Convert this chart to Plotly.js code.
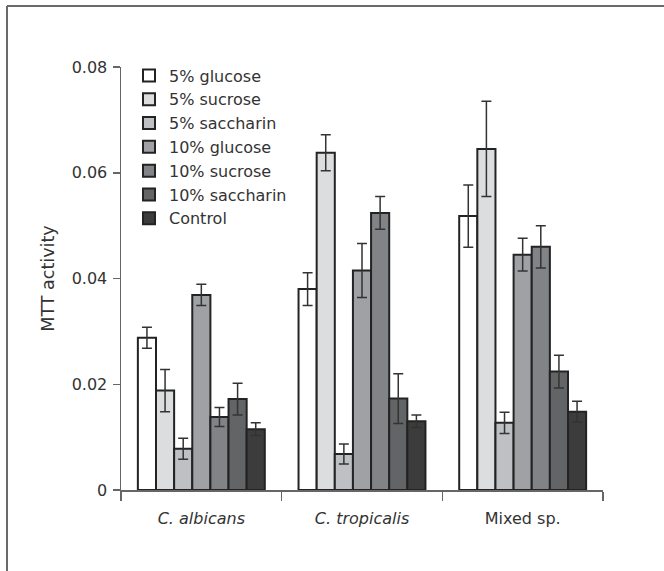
<!DOCTYPE html>
<html>
<head>
<meta charset="utf-8">
<script src="https://cdn.plot.ly/plotly-3.0.1.min.js"></script>
<style>html,body{margin:0;padding:0;background:#fff;}#chart{width:664px;height:571px;}</style>
</head>
<body>
<div id="chart"></div>
<script>
// Categories and tick labels
const categories = ["C. albicans", "C. tropicalis", "Mixed sp."];
const tickLabels = ["<i>C. albicans</i>", "<i>C. tropicalis</i>", "Mixed sp."];

// Series names
const seriesNames = ["5% glucose", "5% sucrose", "5% saccharin", "10% glucose", "10% sucrose", "10% saccharin", "Control"];

// Series values (MTT activity), per category
const glucose5   = [0.0288, 0.0380, 0.0518];
const sucrose5   = [0.0188, 0.0638, 0.0645];
const saccharin5 = [0.0078, 0.0068, 0.0127];
const glucose10  = [0.0369, 0.0415, 0.0445];
const sucrose10  = [0.0138, 0.0524, 0.0460];
const saccharin10= [0.0172, 0.0173, 0.0224];
const control    = [0.0115, 0.0130, 0.0148];

// Error values (symmetric)
const glucose5Err   = [0.0020, 0.0031, 0.0059];
const sucrose5Err   = [0.0040, 0.0034, 0.0090];
const saccharin5Err = [0.0020, 0.0019, 0.0020];
const glucose10Err  = [0.0020, 0.0051, 0.0031];
const sucrose10Err  = [0.0018, 0.0031, 0.0040];
const saccharin10Err= [0.0030, 0.0047, 0.0031];
const controlErr    = [0.0012, 0.0012, 0.0020];

const seriesValues = [glucose5, sucrose5, saccharin5, glucose10, sucrose10, saccharin10, control];
const seriesErrors = [glucose5Err, sucrose5Err, saccharin5Err, glucose10Err, sucrose10Err, saccharin10Err, controlErr];
const seriesColors = ["#ffffff", "#dcdddf", "#bfc0c3", "#a0a1a4", "#828386", "#636466", "#3c3c3d"];

const traces = seriesNames.map((name, i) => ({
  type: "bar",
  name: name,
  x: categories,
  y: seriesValues[i],
  marker: { color: seriesColors[i], line: { color: "#232323", width: 2 } },
  error_y: { type: "data", array: seriesErrors[i], visible: true, color: "#333333", thickness: 1.5, width: 5 }
}));

const font = "'DejaVu Sans', 'Noto Sans', sans-serif";

const layout = {
  width: 664,
  height: 571,
  margin: { l: 121, r: 61, t: 67, b: 81 },
  paper_bgcolor: "#ffffff",
  plot_bgcolor: "#ffffff",
  font: { family: font, color: "#333333", size: 16 },
  barmode: "group",
  bargap: 0.21,
  bargroupgap: 0,
  showlegend: true,
  legend: {
    x: 0.0166, y: 1.02, xanchor: "left", yanchor: "top",
    bgcolor: "rgba(0,0,0,0)",
    font: { family: font, size: 16, color: "#333333" },
    tracegroupgap: 0,
    itemwidth: 30
  },
  xaxis: {
    type: "category",
    tickvals: categories,
    ticktext: tickLabels,
    tickson: "boundaries",
    ticks: "outside",
    ticklen: 9,
    tickcolor: "#666666",
    tickwidth: 1.5,
    ticklabelstandoff: 13,
    showline: true,
    linecolor: "#666666",
    linewidth: 1.5,
    showgrid: false,
    zeroline: false,
    tickfont: { family: font, size: 16, color: "#333333" },
    fixedrange: true
  },
  yaxis: {
    range: [0, 0.08],
    tickvals: [0, 0.02, 0.04, 0.06, 0.08],
    ticktext: ["0", "0.02", "0.04", "0.06", "0.08"],
    ticks: "outside",
    ticklen: 7,
    tickcolor: "#666666",
    tickwidth: 1.5,
    ticklabelstandoff: 2,
    showline: true,
    linecolor: "#666666",
    linewidth: 1.5,
    showgrid: false,
    zeroline: false,
    tickfont: { family: font, size: 16, color: "#333333" },
    title: { text: "MTT activity", font: { family: font, size: 17.5, color: "#333333" }, standoff: 12 },
    fixedrange: true
  },
  shapes: [
    { type: "line", xref: "paper", yref: "paper", x0: -0.2365, x1: -0.2365, y0: 1.1442, y1: -0.2, line: { color: "#6a6a6a", width: 2 } },
    { type: "line", xref: "paper", yref: "paper", x0: -0.2365, x1: 1.2, y0: 1.1442, y1: 1.1442, line: { color: "#6a6a6a", width: 2 } }
  ]
};

Plotly.newPlot("chart", traces, layout, { displayModeBar: false, staticPlot: true });
</script>
</body>
</html>
